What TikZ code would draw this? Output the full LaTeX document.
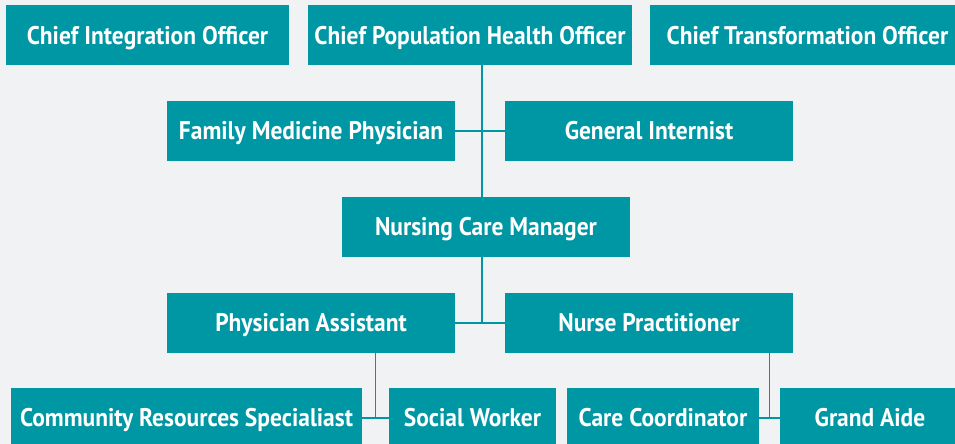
\documentclass[tikz,border=0pt]{standalone}
\usepackage{fontspec}
\setsansfont{PT Sans}[FakeStretch=0.92]
\usepackage{tikz}
\usetikzlibrary{positioning,calc}
\usepackage{xcolor}
\definecolor{boxteal}{HTML}{0097A4}
\definecolor{pagegray}{HTML}{F1F2F4}

\begin{document}
\begin{tikzpicture}[
    x=1pt, y=-1pt,
    role/.style={rectangle, fill=boxteal, text=white, inner sep=0pt, outer sep=0pt, minimum height=60pt, text height=17.5pt, text depth=0pt, font=\sffamily\bfseries\fontsize{25.5}{28}\selectfont},
    link/.style={draw=boxteal, line width=1.2pt}
]

% Background
\fill[pagegray] (0,0) rectangle (955,444);
\useasboundingbox (0,0) rectangle (955,444);

% Chiefs
\node[role, minimum width=283pt] (cio) at (147.5,35.5) {Chief Integration Officer};
\node[role, minimum width=324pt, right=19pt of cio] (cpho) {Chief Population Health Officer};
\node[role, minimum width=315pt, right=18pt of cpho] (cto) {Chief Transformation Officer};

% Physicians
\node[role, minimum width=288pt] (fmp) at (311,131) {Family Medicine Physician};
\node[role, minimum width=288pt, right=50pt of fmp] (gi) {General Internist};

% Care manager
\node[role, minimum width=288pt] (ncm) at (486,227) {Nursing Care Manager};

% Practitioners
\node[role, minimum width=288pt] (pa) at (311,323) {Physician Assistant};
\node[role, minimum width=288pt, right=50pt of pa] (np) {Nurse Practitioner};

% Support team - bottom row runs off the page
\node[role, minimum width=351pt] (crs) at (186.5,418) {Community Resources Specialiast};
\node[role, minimum width=167pt, right=27pt of crs] (sw) {Social Worker};
\node[role, minimum width=192pt, right=11pt of sw] (cc) {Care Coordinator};
\node[role, minimum width=180pt, right=21pt of cc] (ga) {Grand Aide};

% Lines
\coordinate (trunk) at (482,0);
\draw[link] (cpho.south -| trunk) -- (ncm.north -| trunk);
\draw[link] (fmp.east) -- (gi.west);
\draw[link] (ncm.south -| trunk) -- (pa.east -| trunk);
\draw[link] (pa.east) -- (np.west);

\coordinate (pamid) at ($(crs.east)!0.5!(sw.west)$);
\draw[link] (pa.south -| pamid) -- (pamid);
\draw[link] (crs.east) -- (sw.west);

\coordinate (npmid) at ($(cc.east)!0.5!(ga.west)$);
\draw[link] (np.south -| npmid) -- (npmid);
\draw[link] (cc.east) -- (ga.west);

\end{tikzpicture}
\end{document}
